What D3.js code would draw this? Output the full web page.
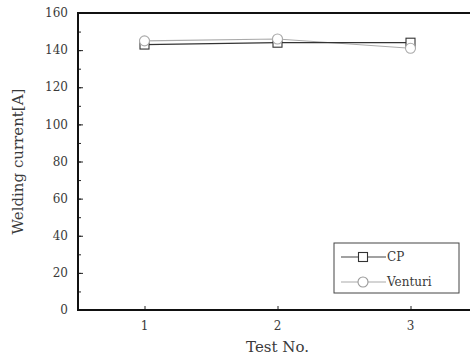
<!DOCTYPE html>
<html lang="en">
<head>
    <meta charset="utf-8">
    <title>Welding current</title>
    <style>
        body { margin: 0; background: #fff; }
        text { font-family: "DejaVu Serif", "Liberation Serif", serif; fill: #3a3a3a; }
    </style>
    <script src="https://d3js.org/d3.v7.min.js"></script>
</head>
<body>
    <svg></svg>
    <script>
        // data
        var tests = [1, 2, 3];
        var cp = [143, 144, 144];
        var venturi = [145, 146, 141];
        var yTicks = [0, 20, 40, 60, 80, 100, 120, 140, 160];

        var W = 470, H = 360;
        var margin = {top: 13, right: -7, bottom: 50, left: 78},
            width = W - margin.left - margin.right,
            height = H - margin.top - margin.bottom;

        var svg = d3.select("svg")
            .attr("width", W)
            .attr("height", H);
        var g = svg.append("g")
            .attr("transform", "translate(" + margin.left + "," + margin.top + ")");

        var x = d3.scaleLinear().domain([0.5, 3.5]).range([0, width]);
        var y = d3.scaleLinear().domain([0, 160]).range([height, 0]);

        // y axis: minor ticks every 10, labels every 20, ticks inward
        g.append("g")
            .call(d3.axisRight(y).tickValues(d3.range(0, 161, 10)).tickSize(3).tickFormat(""))
            .call(function(a) { a.select(".domain").remove(); a.selectAll("line").attr("stroke", "#222"); });
        g.append("g")
            .call(d3.axisRight(y).tickValues(yTicks).tickSize(5).tickFormat(""))
            .call(function(a) { a.select(".domain").remove(); a.selectAll("line").attr("stroke", "#222"); });
        g.selectAll(".ylab")
            .data(yTicks)
            .enter().append("text")
            .attr("class", "ylab")
            .attr("x", -10)
            .attr("y", function(d) { return y(d); })
            .attr("dy", "0.35em")
            .attr("text-anchor", "end")
            .style("font-size", "12px")
            .text(function(d) { return d; });

        // x axis ticks inward
        g.append("g")
            .attr("transform", "translate(0," + height + ")")
            .call(d3.axisTop(x).tickValues(tests).tickSize(4).tickFormat(""))
            .call(function(a) { a.select(".domain").remove(); a.selectAll("line").attr("stroke", "#222"); });
        g.selectAll(".xlab")
            .data(tests)
            .enter().append("text")
            .attr("class", "xlab")
            .attr("x", function(d) { return x(d); })
            .attr("y", height + 20)
            .attr("text-anchor", "middle")
            .style("font-size", "12px")
            .text(function(d) { return d; });

        // frame: left, top, bottom
        g.append("path")
            .attr("d", "M" + (width + 10) + ",0H0V" + height + "H" + (width + 10))
            .attr("fill", "none")
            .attr("stroke", "#111")
            .attr("stroke-width", 2);

        // axis titles
        svg.append("text")
            .attr("x", margin.left + x(2))
            .attr("y", 352)
            .attr("text-anchor", "middle")
            .style("font-size", "15px")
            .text("Test No.");
        svg.append("text")
            .attr("transform", "translate(23," + (margin.top + height / 2) + ") rotate(-90)")
            .attr("text-anchor", "middle")
            .style("font-size", "15px")
            .text("Welding current[A]");

        var line = d3.line()
            .x(function(d, i) { return x(tests[i]); })
            .y(function(d) { return y(d); });

        // Venturi series (light)
        g.append("path")
            .datum(venturi)
            .attr("d", line)
            .attr("fill", "none")
            .attr("stroke", "#aaa")
            .attr("stroke-width", 1.2);
        // CP series (dark)
        g.append("path")
            .datum(cp)
            .attr("d", line)
            .attr("fill", "none")
            .attr("stroke", "#333")
            .attr("stroke-width", 1.2);

        g.selectAll(".sq")
            .data(cp)
            .enter().append("rect")
            .attr("class", "sq")
            .attr("x", function(d, i) { return x(tests[i]) - 4.5; })
            .attr("y", function(d) { return y(d) - 4.5; })
            .attr("width", 9)
            .attr("height", 9)
            .attr("fill", "#fff")
            .attr("stroke", "#333")
            .attr("stroke-width", 1.1);
        g.selectAll(".ci")
            .data(venturi)
            .enter().append("circle")
            .attr("class", "ci")
            .attr("cx", function(d, i) { return x(tests[i]); })
            .attr("cy", function(d) { return y(d); })
            .attr("r", 5)
            .attr("fill", "#fff")
            .attr("stroke", "#aaa")
            .attr("stroke-width", 1.1);

        // legend
        var lg = svg.append("g").attr("transform", "translate(334,243)");
        lg.append("rect")
            .attr("width", 125).attr("height", 50)
            .attr("fill", "#fff").attr("stroke", "#444").attr("stroke-width", 1);
        var items = [
            {name: "CP", color: "#444", shape: "square"},
            {name: "Venturi", color: "#aaa", shape: "circle"}
        ];
        items.forEach(function(it, i) {
            var yy = 14 + i * 25;
            lg.append("line")
                .attr("x1", 7).attr("x2", 52).attr("y1", yy).attr("y2", yy)
                .attr("stroke", it.color).attr("stroke-width", 1.2);
            if (it.shape === "square") {
                lg.append("rect")
                    .attr("x", 24.5).attr("y", yy - 4.5).attr("width", 9).attr("height", 9)
                    .attr("fill", "#fff").attr("stroke", "#333").attr("stroke-width", 1.1);
            } else {
                lg.append("circle")
                    .attr("cx", 29).attr("cy", yy).attr("r", 5)
                    .attr("fill", "#fff").attr("stroke", "#999").attr("stroke-width", 1.1);
            }
            lg.append("text")
                .attr("x", 53).attr("y", yy).attr("dy", "0.35em")
                .style("font-size", "12px")
                .text(it.name);
        });
    </script>
</body>
</html>
